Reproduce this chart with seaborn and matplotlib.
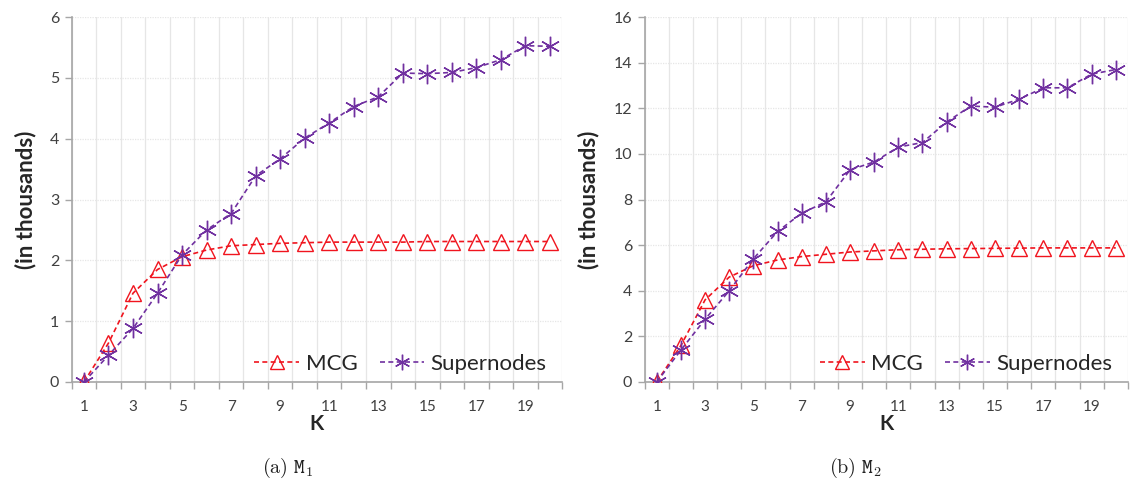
import numpy as np
import pandas as pd
import matplotlib
matplotlib.use("Agg")
import matplotlib.pyplot as plt
import seaborn as sns

K = list(range(1, 21))
m1_mcg = [0, 0.64, 1.46, 1.85, 2.06, 2.17, 2.24, 2.26, 2.28, 2.29, 2.30, 2.30, 2.30, 2.30, 2.31, 2.31, 2.31, 2.31, 2.31, 2.31]
m1_super = [0, 0.44, 0.88, 1.46, 2.09, 2.50, 2.77, 3.39, 3.67, 4.01, 4.26, 4.53, 4.69, 5.08, 5.07, 5.09, 5.17, 5.30, 5.53, 5.52]
m2_mcg = [0, 1.6, 3.6, 4.6, 5.1, 5.35, 5.5, 5.6, 5.7, 5.75, 5.8, 5.82, 5.84, 5.85, 5.86, 5.87, 5.88, 5.88, 5.88, 5.88]
m2_super = [0, 1.4, 2.75, 4.0, 5.4, 6.6, 7.4, 7.9, 9.3, 9.65, 10.3, 10.5, 11.4, 12.1, 12.05, 12.4, 12.9, 12.9, 13.5, 13.7]
series_names = ["MCG", "Supernodes"]
captions = [r"$\mathrm{(a)}\ \mathtt{M}_{\mathbf{1}}$", r"$\mathrm{(b)}\ \mathtt{M}_{\mathbf{2}}$"]
y_limits = [(0, 6), (0, 16)]
y_steps = [1, 2]

sns.set_theme(style="white")
plt.rcParams["font.family"] = ["Lato", "DejaVu Sans"]
plt.rcParams["mathtext.fontset"] = "cm"

fig = plt.figure(figsize=(11.31, 4.82), dpi=100)
positions = [[0.0634, 0.2075, 0.4337, 0.757], [0.570, 0.2075, 0.4272, 0.757]]
datasets = [(m1_mcg, m1_super), (m2_mcg, m2_super)]
caption_x = [0.254, 0.756]
colors = {"MCG": "#F0141E", "Supernodes": "#7030A0"}
markers = {"MCG": "^", "Supernodes": (6, 2, 0)}
msizes = {"MCG": 12, "Supernodes": 14}

for i, (pos, (mcg, sup)) in enumerate(zip(positions, datasets)):
    ax = fig.add_axes(pos)
    df = pd.DataFrame({"K": K * 2, "value": mcg + sup,
                       "series": ["MCG"] * 20 + ["Supernodes"] * 20})
    for name in series_names:
        sub = df[df["series"] == name]
        sns.lineplot(data=sub, x="K", y="value", ax=ax, color=colors[name],
                     marker=markers[name], markersize=msizes[name], mfc="none",
                     mec=colors[name], mew=1.0, lw=1.2, dashes=False,
                     linestyle=(0, (3, 2)), label=name, legend=False, zorder=3)
    ax.set_xlim(0.5, 20.5)
    ax.set_ylim(*y_limits[i])
    ax.set_yticks(np.arange(y_limits[i][0], y_limits[i][1] + 0.01, y_steps[i]))
    ax.set_xticks(list(range(1, 21, 2)))
    ax.set_xticks(np.arange(0.5, 20.6, 1), minor=True)
    ax.tick_params(axis="x", which="major", length=0, pad=13, labelsize=11, labelcolor="#404040")
    ax.tick_params(axis="x", which="minor", length=5, width=1, color="#A6A6A6", direction="out", bottom=True)
    ax.tick_params(axis="y", which="major", length=5, width=1, color="#A6A6A6", left=True, labelsize=11.5, labelcolor="#404040", pad=4)
    ax.grid(True, axis="x", which="minor", color="#E6E6E6", lw=0.9)
    ax.grid(True, axis="y", which="major", color="#E6E6E6", lw=0.9, linestyle=(0, (1, 1)))
    ax.grid(False, axis="x", which="major")
    for s in ["top", "right"]:
        ax.spines[s].set_visible(False)
    for s in ["left", "bottom"]:
        ax.spines[s].set_color("#A6A6A6")
        ax.spines[s].set_linewidth(1.2)
    ax.set_xlabel("K", fontsize=15, fontweight="bold", color="#262626", labelpad=0)
    ax.set_ylabel("(in thousands)", fontsize=16, fontweight="bold", color="#262626", labelpad=10)
    ax.legend(loc="lower right", bbox_to_anchor=(1.0, -0.02), ncol=2, frameon=False,
              fontsize=16, handlelength=2.0, columnspacing=1.0, handletextpad=0.3,
              borderaxespad=0.3, markerscale=0.8)
    fig.text(caption_x[i], 0.03, captions[i], ha="center", va="center", fontsize=14.5, color="#222222")

fig.savefig("out.png", dpi=100)
